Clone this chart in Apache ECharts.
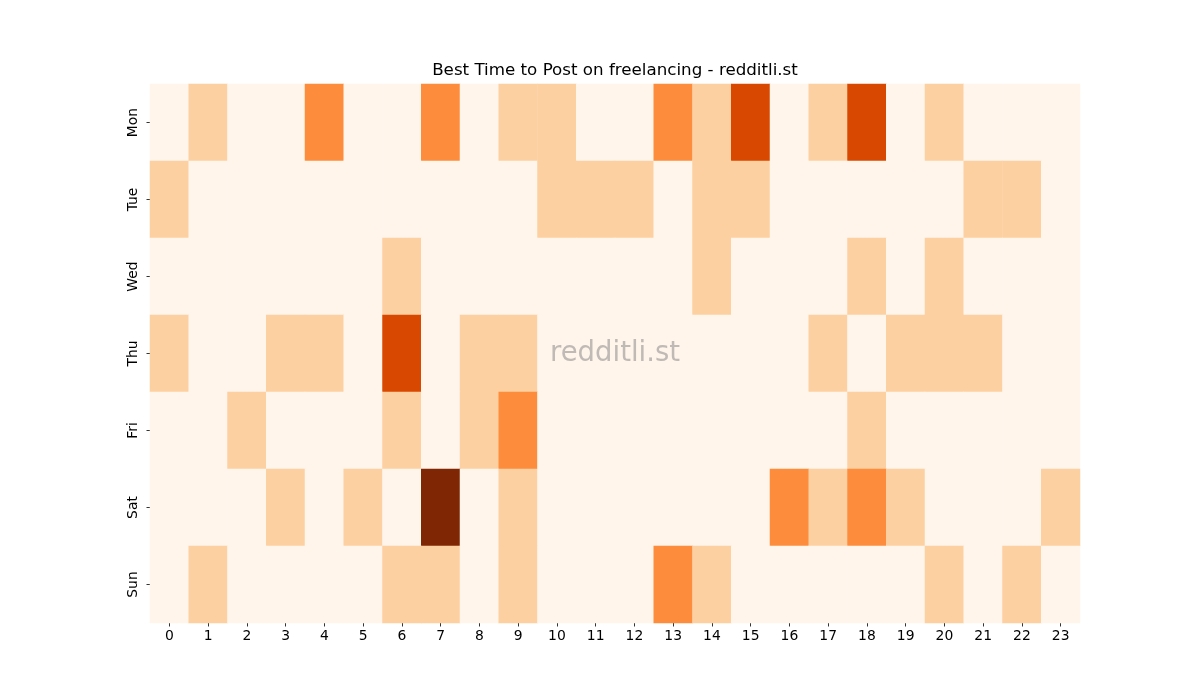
<!DOCTYPE html>
<html>
<head>
<meta charset="utf-8">
<script src="https://cdn.jsdelivr.net/npm/echarts@6/dist/echarts.min.js"></script>
<style>html,body{margin:0;padding:0;background:#fff}#c{width:1200px;height:700px}</style>
</head>
<body>
<div id="c"></div>
<script>
const hours = ['0','1','2','3','4','5','6','7','8','9','10','11','12','13','14','15','16','17','18','19','20','21','22','23'];
const days = ['Mon','Tue','Wed','Thu','Fri','Sat','Sun'];
const mon = [0,1,0,0,2,0,0,2,0,1,1,0,0,2,1,3,0,1,3,0,1,0,0,0];
const tue = [1,0,0,0,0,0,0,0,0,0,1,1,1,0,1,1,0,0,0,0,0,1,1,0];
const wed = [0,0,0,0,0,0,1,0,0,0,0,0,0,0,1,0,0,0,1,0,1,0,0,0];
const thu = [1,0,0,1,1,0,3,0,1,1,0,0,0,0,0,0,0,1,0,1,1,1,0,0];
const fri = [0,0,1,0,0,0,1,0,1,2,0,0,0,0,0,0,0,0,1,0,0,0,0,0];
const sat = [0,0,0,1,0,1,0,4,0,1,0,0,0,0,0,0,2,1,2,1,0,0,0,1];
const sun = [0,1,0,0,0,0,1,1,0,1,0,0,0,2,1,0,0,0,0,0,1,0,1,0];
const rows = [mon,tue,wed,thu,fri,sat,sun];
const data = [];
rows.forEach((r, yi) => r.forEach((v, xi) => data.push([xi, yi, v])));

const chart = echarts.init(document.getElementById('c'));
const font = 'DejaVu Sans';
chart.setOption({
  animation: false,
  backgroundColor: '#ffffff',
  textStyle: {fontFamily: font},
  grid: {left: 150, top: 84, width: 930, height: 539},
  xAxis: {
    type: 'category', data: hours,
    axisLine: {show: false},
    axisTick: {show: true, alignWithLabel: true, length: 3.5, lineStyle: {color: '#000', width: 0.8}},
    axisLabel: {color: '#000', fontSize: 13.9, margin: 6, fontFamily: font},
    splitLine: {show: false}
  },
  yAxis: {
    type: 'category', data: days, inverse: true,
    axisLine: {show: false},
    axisTick: {show: true, alignWithLabel: true, length: 3.5, lineStyle: {color: '#000', width: 0.8}},
    axisLabel: {color: '#000', fontSize: 13.9, margin: 10, rotate: 90, fontFamily: font},
    splitLine: {show: false}
  },
  visualMap: {
    show: false, min: 0, max: 4, calculable: false,
    inRange: {color: ['#fff5eb','#fee6ce','#fdd0a2','#fdae6b','#fd8d3c','#f16913','#d94801','#a63603','#7f2704']}
  },
  series: [{
    type: 'heatmap', data: data,
    itemStyle: {borderWidth: 0},
    emphasis: {disabled: true}
  }],
  graphic: [
    {type: 'text', x: 615, y: 71, z: 100,
     style: {text: 'Best Time to Post on freelancing - redditli.st', fill: '#000', font: '16.7px "DejaVu Sans"', textAlign: 'center', textVerticalAlign: 'middle'}},
    {type: 'text', x: 615, y: 354, z: 100,
     style: {text: 'redditli.st', fill: 'rgba(128,128,128,0.5)', font: '27.5px "DejaVu Sans"', textAlign: 'center', textVerticalAlign: 'middle'}}
  ]
});
</script>
</body>
</html>
